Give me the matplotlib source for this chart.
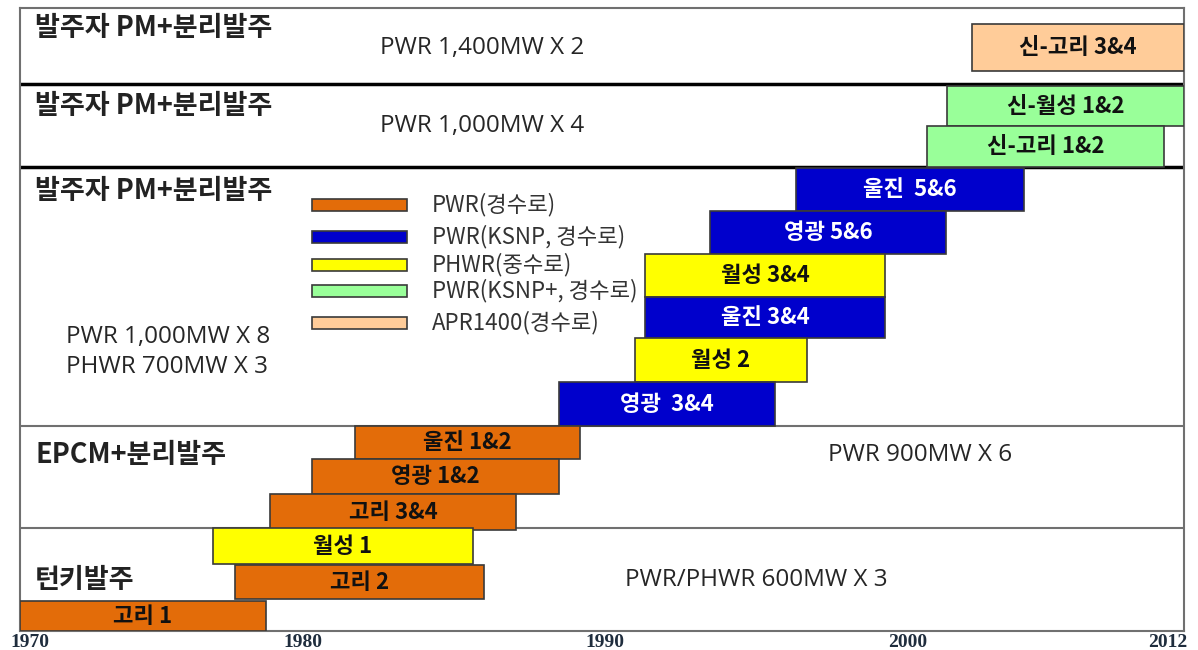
import matplotlib
matplotlib.use("Agg")
import matplotlib.pyplot as plt
from matplotlib.patches import Rectangle

plt.rcParams['font.family'] = ['Noto Sans CJK KR', 'DejaVu Sans']

# ---- data ----
plant_names = ["신-고리 3&4", "신-월성 1&2", "신-고리 1&2", "울진  5&6", "영광 5&6",
               "월성 3&4", "울진 3&4", "월성 2", "영광  3&4", "울진 1&2",
               "영광 1&2", "고리 3&4", "월성 1", "고리 2", "고리 1"]
plant_start = [2004.35, 2003.45, 2002.73, 1998.0, 1994.9,
               1992.55, 1992.55, 1992.19, 1989.45, 1982.09,
               1980.54, 1979.02, 1976.96, 1977.76, 1970.0]
plant_end = [2012.0, 2012.0, 2011.28, 2006.23, 2003.41,
             2001.21, 2001.21, 1998.4, 1997.24, 1990.2,
             1989.45, 1987.9, 1986.35, 1986.74, 1978.88]
plant_type = ["APR1400", "KSNP+", "KSNP+", "KSNP", "KSNP",
              "PHWR", "KSNP", "PHWR", "KSNP", "PWR",
              "PWR", "PWR", "PHWR", "PWR", "PWR"]

type_keys = ["PWR", "KSNP", "PHWR", "KSNP+", "APR1400"]
type_labels = ["PWR(경수로)", "PWR(KSNP, 경수로)", "PHWR(중수로)", "PWR(KSNP+, 경수로)", "APR1400(경수로)"]
type_colors = ["#E36C09", "#0000CC", "#FFFF00", "#99FF99", "#FFCC99"]

section_titles = ["발주자 PM+분리발주", "발주자 PM+분리발주", "발주자 PM+분리발주", "EPCM+분리발주", "턴키발주"]
section_specs = ["PWR 1,400MW X 2", "PWR 1,000MW X 4", "PWR 1,000MW X 8\nPHWR 700MW X 3",
                 "PWR 900MW X 6", "PWR/PHWR 600MW X 3"]

tick_labels = ["1970", "1980", "1990", "2000", "2012"]
tick_pos = [1970.36, 1980.21, 1991.1, 2002.04, 2011.42]

# ---- layout (pixel rows of the figure) ----
bar_top = [24, 86, 126, 168, 211, 254, 297, 338, 382, 426, 459, 494, 528, 565, 601]
bar_bot = [71, 126, 167, 211, 254, 297, 338, 382, 426, 459, 494, 530, 564, 599, 631]
section_lines = [84, 167]
section_lines_thin = [426, 528]
title_xy = [(35, 28), (35, 106), (35, 191), (35, 455), (35, 580)]
spec_xy = [(380, 48), (380, 126), (66, 352), (828, 455), (625, 580)]

W, H = 1198, 650
fig = plt.figure(figsize=(W / 100, H / 100), dpi=100)
L, R, T, B = 20, 1184, 8, 631
ax = fig.add_axes([L / W, 1 - B / H, (R - L) / W, (B - T) / H])
ax.set_xlim(1970, 2012)
ax.set_ylim(B, T)

def fx(px):
    return (px - L) / (R - L)

def fy(py):
    return 1 - (py - T) / (B - T)

color_of = dict(zip(type_keys, type_colors))
for name, s, e, t, y0, y1 in zip(plant_names, plant_start, plant_end, plant_type, bar_top, bar_bot):
    c = color_of[t]
    ax.barh((y0 + y1) / 2, e - s, left=s, height=(y1 - y0), color=c,
            edgecolor="#3a3a3a", linewidth=1.2, zorder=3)
    tc = "white" if t == "KSNP" else "#111111"
    ax.text((s + e) / 2, (y0 + y1) / 2, name, ha="center", va="center",
            fontsize=16, fontweight="bold", color=tc, zorder=4)

for yl in section_lines:
    ax.axhline(yl, color="black", lw=2.5, zorder=2)
for yl in section_lines_thin:
    ax.axhline(yl, color="#707070", lw=1.5, zorder=2)

for title, (x, y) in zip(section_titles, title_xy):
    ax.text(fx(x), fy(y), title, transform=ax.transAxes, ha="left", va="center",
            fontsize=19.5, fontweight="bold", color="#222222", zorder=5)
for spec, (x, y) in zip(section_specs, spec_xy):
    ax.text(fx(x), fy(y), spec, transform=ax.transAxes, ha="left", va="center",
            fontsize=17.5, color="#262626", linespacing=1.3, zorder=5,
            family=["Open Sans", "Noto Sans CJK KR"])

# legend
leg_y = [205, 237, 265, 291, 323]
for lab, c, y in zip(type_labels, type_colors, leg_y):
    ax.add_patch(Rectangle((fx(312), fy(y + 6)), fx(407) - fx(312), fy(y - 6) - fy(y + 6),
                           transform=ax.transAxes, facecolor=c, edgecolor="#3a3a3a",
                           linewidth=1.2, zorder=5))
    ax.text(fx(432), fy(y), lab, transform=ax.transAxes, ha="left", va="center",
            fontsize=16, color="#333333", zorder=5)

ax.set_yticks([])
ax.set_xticks(tick_pos)
ax.set_xticklabels(tick_labels, fontfamily="Liberation Serif", fontweight="bold",
                   fontsize=14, color="#1f2d3d")
ax.tick_params(axis="x", length=0, pad=2)
for sp in ax.spines.values():
    sp.set_color("#707070")
    sp.set_linewidth(1.5)

fig.savefig("out.png", dpi=100, facecolor="white")
